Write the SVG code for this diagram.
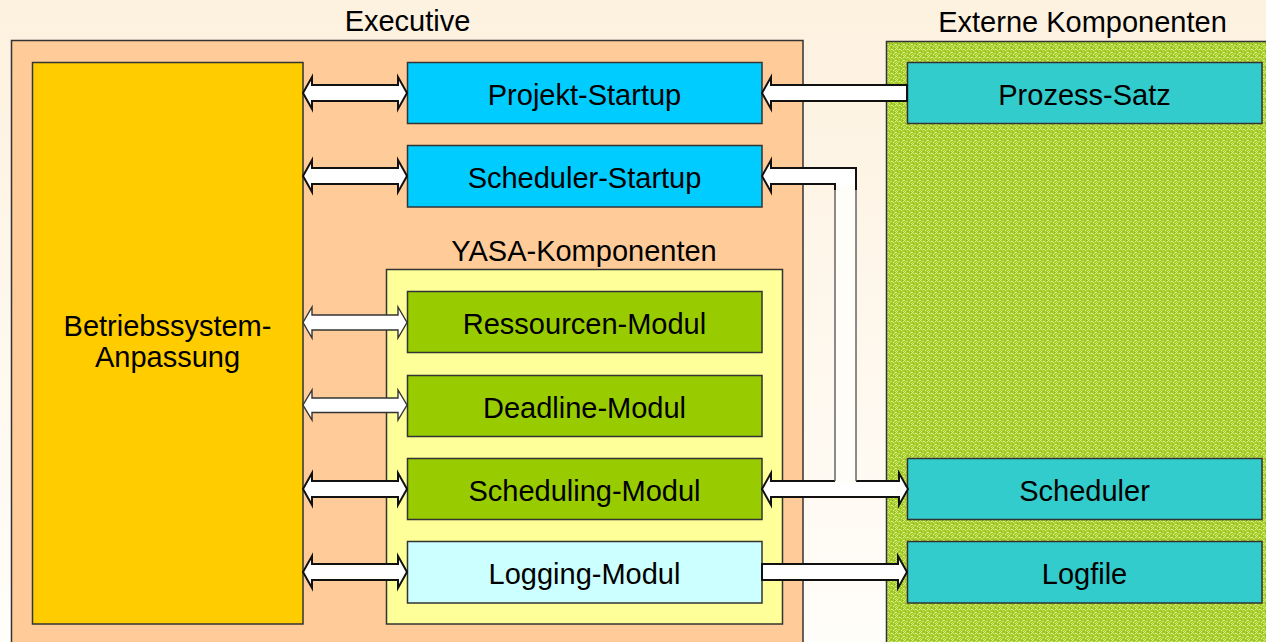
<svg xmlns="http://www.w3.org/2000/svg" width="1266" height="642" viewBox="0 0 1266 642">
  <defs>
    <linearGradient id="bg" x1="0" y1="0" x2="0" y2="1">
      <stop offset="0" stop-color="#FDF1DF"/>
      <stop offset="1" stop-color="#FFFDF9"/>
    </linearGradient>
    <!-- speckled green texture for the external area -->
    <pattern id="moss" width="8" height="8" patternUnits="userSpaceOnUse">
      <rect width="8" height="8" fill="#A6CD2A"/>
      <rect x="0" y="0" width="1" height="1" fill="#D9EC8E"/>
      <rect x="3" y="1" width="1" height="1" fill="#E4F2A8"/>
      <rect x="4" y="1" width="1" height="1" fill="#C9E372"/>
      <rect x="6" y="0" width="1" height="1" fill="#8CB41C"/>
      <rect x="1" y="3" width="1" height="1" fill="#8CB41C"/>
      <rect x="5" y="2" width="1" height="1" fill="#D0E77A"/>
      <rect x="7" y="4" width="1" height="1" fill="#E4F2A8"/>
      <rect x="2" y="5" width="1" height="1" fill="#D9EC8E"/>
      <rect x="3" y="5" width="1" height="1" fill="#C2DF62"/>
      <rect x="4" y="4" width="1" height="1" fill="#96BE22"/>
      <rect x="0" y="6" width="1" height="1" fill="#C7E36A"/>
      <rect x="5" y="6" width="1" height="1" fill="#DDEE98"/>
      <rect x="3" y="7" width="1" height="1" fill="#8CB41C"/>
      <rect x="7" y="7" width="1" height="1" fill="#CFE67C"/>
      <rect x="6" y="3" width="1" height="1" fill="#BCDC58"/>
      <rect x="2" y="2" width="1" height="1" fill="#BCDC58"/>
      <rect x="1" y="1" width="1" height="1" fill="#C4E066"/>
      <rect x="7" y="1" width="1" height="1" fill="#D6EA88"/>
      <rect x="0" y="4" width="1" height="1" fill="#D2E880"/>
      <rect x="6" y="5" width="1" height="1" fill="#C4E066"/>
      <rect x="1" y="7" width="1" height="1" fill="#D9EC8E"/>
    </pattern>
  </defs>
  <style>
    .label { font-family: "Liberation Sans", Arial, sans-serif; font-size: 29px; fill: #000; text-anchor: middle; }
    .box { stroke: #333; stroke-width: 1.5; }
    .frame { stroke: #333; stroke-width: 1.5; }
    .arrow { fill: #fff; stroke: #111; stroke-width: 2; stroke-linejoin: miter; }
    .arrow-thin { fill: #fff; stroke: #333; stroke-width: 1.4; }
    .strip { fill: #FFFDF8; stroke: none; }
    .strip-edge { fill: none; stroke: #666; stroke-width: 1.5; }
  </style>

  <rect width="1266" height="642" fill="url(#bg)"/>

  <!-- container areas -->
  <g id="executive">
    <rect class="frame" x="11.5" y="40.5" width="791.5" height="620" fill="#FFCC99"/>
    <text class="label" x="407.5" y="31">Executive</text>
  </g>
  <g id="externe-komponenten">
    <rect class="frame" x="886.5" y="41.5" width="400" height="620" fill="url(#moss)"/>
    <text class="label" x="1082.5" y="31.5">Externe Komponenten</text>
  </g>

  <g id="betriebssystem-anpassung">
    <rect class="box" x="32.5" y="62.5" width="270.5" height="561.5" fill="#FFCC00"/>
    <text class="label" x="167.5" y="336">Betriebssystem-</text>
    <text class="label" x="167.5" y="366.5">Anpassung</text>
  </g>

  <g id="projekt-startup">
    <rect class="box" x="407.5" y="62.5" width="354.5" height="61" fill="#00CCFF"/>
    <text class="label" x="584.5" y="104.5">Projekt-Startup</text>
  </g>
  <g id="scheduler-startup">
    <rect class="box" x="407.5" y="145.5" width="354.5" height="61.5" fill="#00CCFF"/>
    <text class="label" x="584.5" y="187.5">Scheduler-Startup</text>
  </g>

  <g id="yasa-komponenten">
    <rect class="box" x="386.5" y="269.5" width="396" height="354.5" fill="#FFFF99"/>
    <text class="label" x="584" y="261">YASA-Komponenten</text>
  </g>
  <g id="ressourcen-modul">
    <rect class="box" x="407.5" y="291.5" width="354.5" height="61" fill="#99CC00"/>
    <text class="label" x="584.5" y="333.5">Ressourcen-Modul</text>
  </g>
  <g id="deadline-modul">
    <rect class="box" x="407.5" y="375.5" width="354.5" height="61" fill="#99CC00"/>
    <text class="label" x="584.5" y="417.5">Deadline-Modul</text>
  </g>
  <g id="scheduling-modul">
    <rect class="box" x="407.5" y="458.5" width="354.5" height="61" fill="#99CC00"/>
    <text class="label" x="584.5" y="500.5">Scheduling-Modul</text>
  </g>
  <g id="logging-modul">
    <rect class="box" x="407.5" y="541.5" width="354.5" height="61.5" fill="#CCFFFF"/>
    <text class="label" x="584.5" y="583.5">Logging-Modul</text>
  </g>

  <g id="prozess-satz">
    <rect class="box" x="907.5" y="62.5" width="354.5" height="61" fill="#33CCCC"/>
    <text class="label" x="1084.5" y="104.5">Prozess-Satz</text>
  </g>
  <g id="scheduler">
    <rect class="box" x="907.5" y="458.5" width="354.5" height="61" fill="#33CCCC"/>
    <text class="label" x="1084.5" y="500.5">Scheduler</text>
  </g>
  <g id="logfile">
    <rect class="box" x="907.5" y="541.5" width="354.5" height="61.5" fill="#33CCCC"/>
    <text class="label" x="1084.5" y="583.5">Logfile</text>
  </g>

  <!-- block-arrow connectors -->
  <g id="connectors">
    <!-- OS adaptation <-> modules -->
    <path class="arrow" d="M303,93 L312,77 L312,85 L398,85 L398,77 L407,93 L398,109 L398,101 L312,101 L312,109 Z"/>
    <path class="arrow" d="M303,176 L312,160 L312,168 L398,168 L398,160 L407,176 L398,192 L398,184 L312,184 L312,192 Z"/>
    <path class="arrow-thin" d="M303,322.5 L312,307 L312,315 L398,315 L398,307 L407,322.5 L398,338 L398,330 L312,330 L312,338 Z"/>
    <path class="arrow-thin" d="M303,405 L312,390 L312,398 L398,398 L398,390 L407,405 L398,420 L398,412.5 L312,412.5 L312,420 Z"/>
    <path class="arrow" d="M303,489 L312,473 L312,481 L398,481 L398,473 L407,489 L398,505 L398,497 L312,497 L312,505 Z"/>
    <path class="arrow" d="M303,572 L312,556 L312,564 L398,564 L398,556 L407,572 L398,588 L398,580 L312,580 L312,588 Z"/>

    <!-- process set -> project startup -->
    <path class="arrow" d="M762,93 L771,77 L771,85 L907,85 L907,101 L771,101 L771,109 Z"/>

    <!-- scheduling module <-> scheduler -->
    <path class="arrow" d="M762,489 L771,473 L771,481 L899,481 L899,473 L908,489 L899,505 L899,497 L771,497 L771,505 Z"/>

    <!-- scheduler feed bending up to scheduler startup -->
    <rect class="strip" x="835" y="183" width="21" height="300"/>
    <path class="strip-edge" d="M835,184 L835,481 M856,184 L856,481"/>
    <path class="arrow" d="M856,190 L856,168 L771,168 L771,160 L762,176 L771,192 L771,184 L835,184 L835,190" fill="#fff"/>
    <rect class="strip" x="836" y="185" width="19" height="8"/>

    <!-- logging module -> logfile -->
    <path class="arrow" d="M762,564 L898,564 L898,556 L907,572 L898,588 L898,580 L762,580 Z"/>
  </g>
</svg>
